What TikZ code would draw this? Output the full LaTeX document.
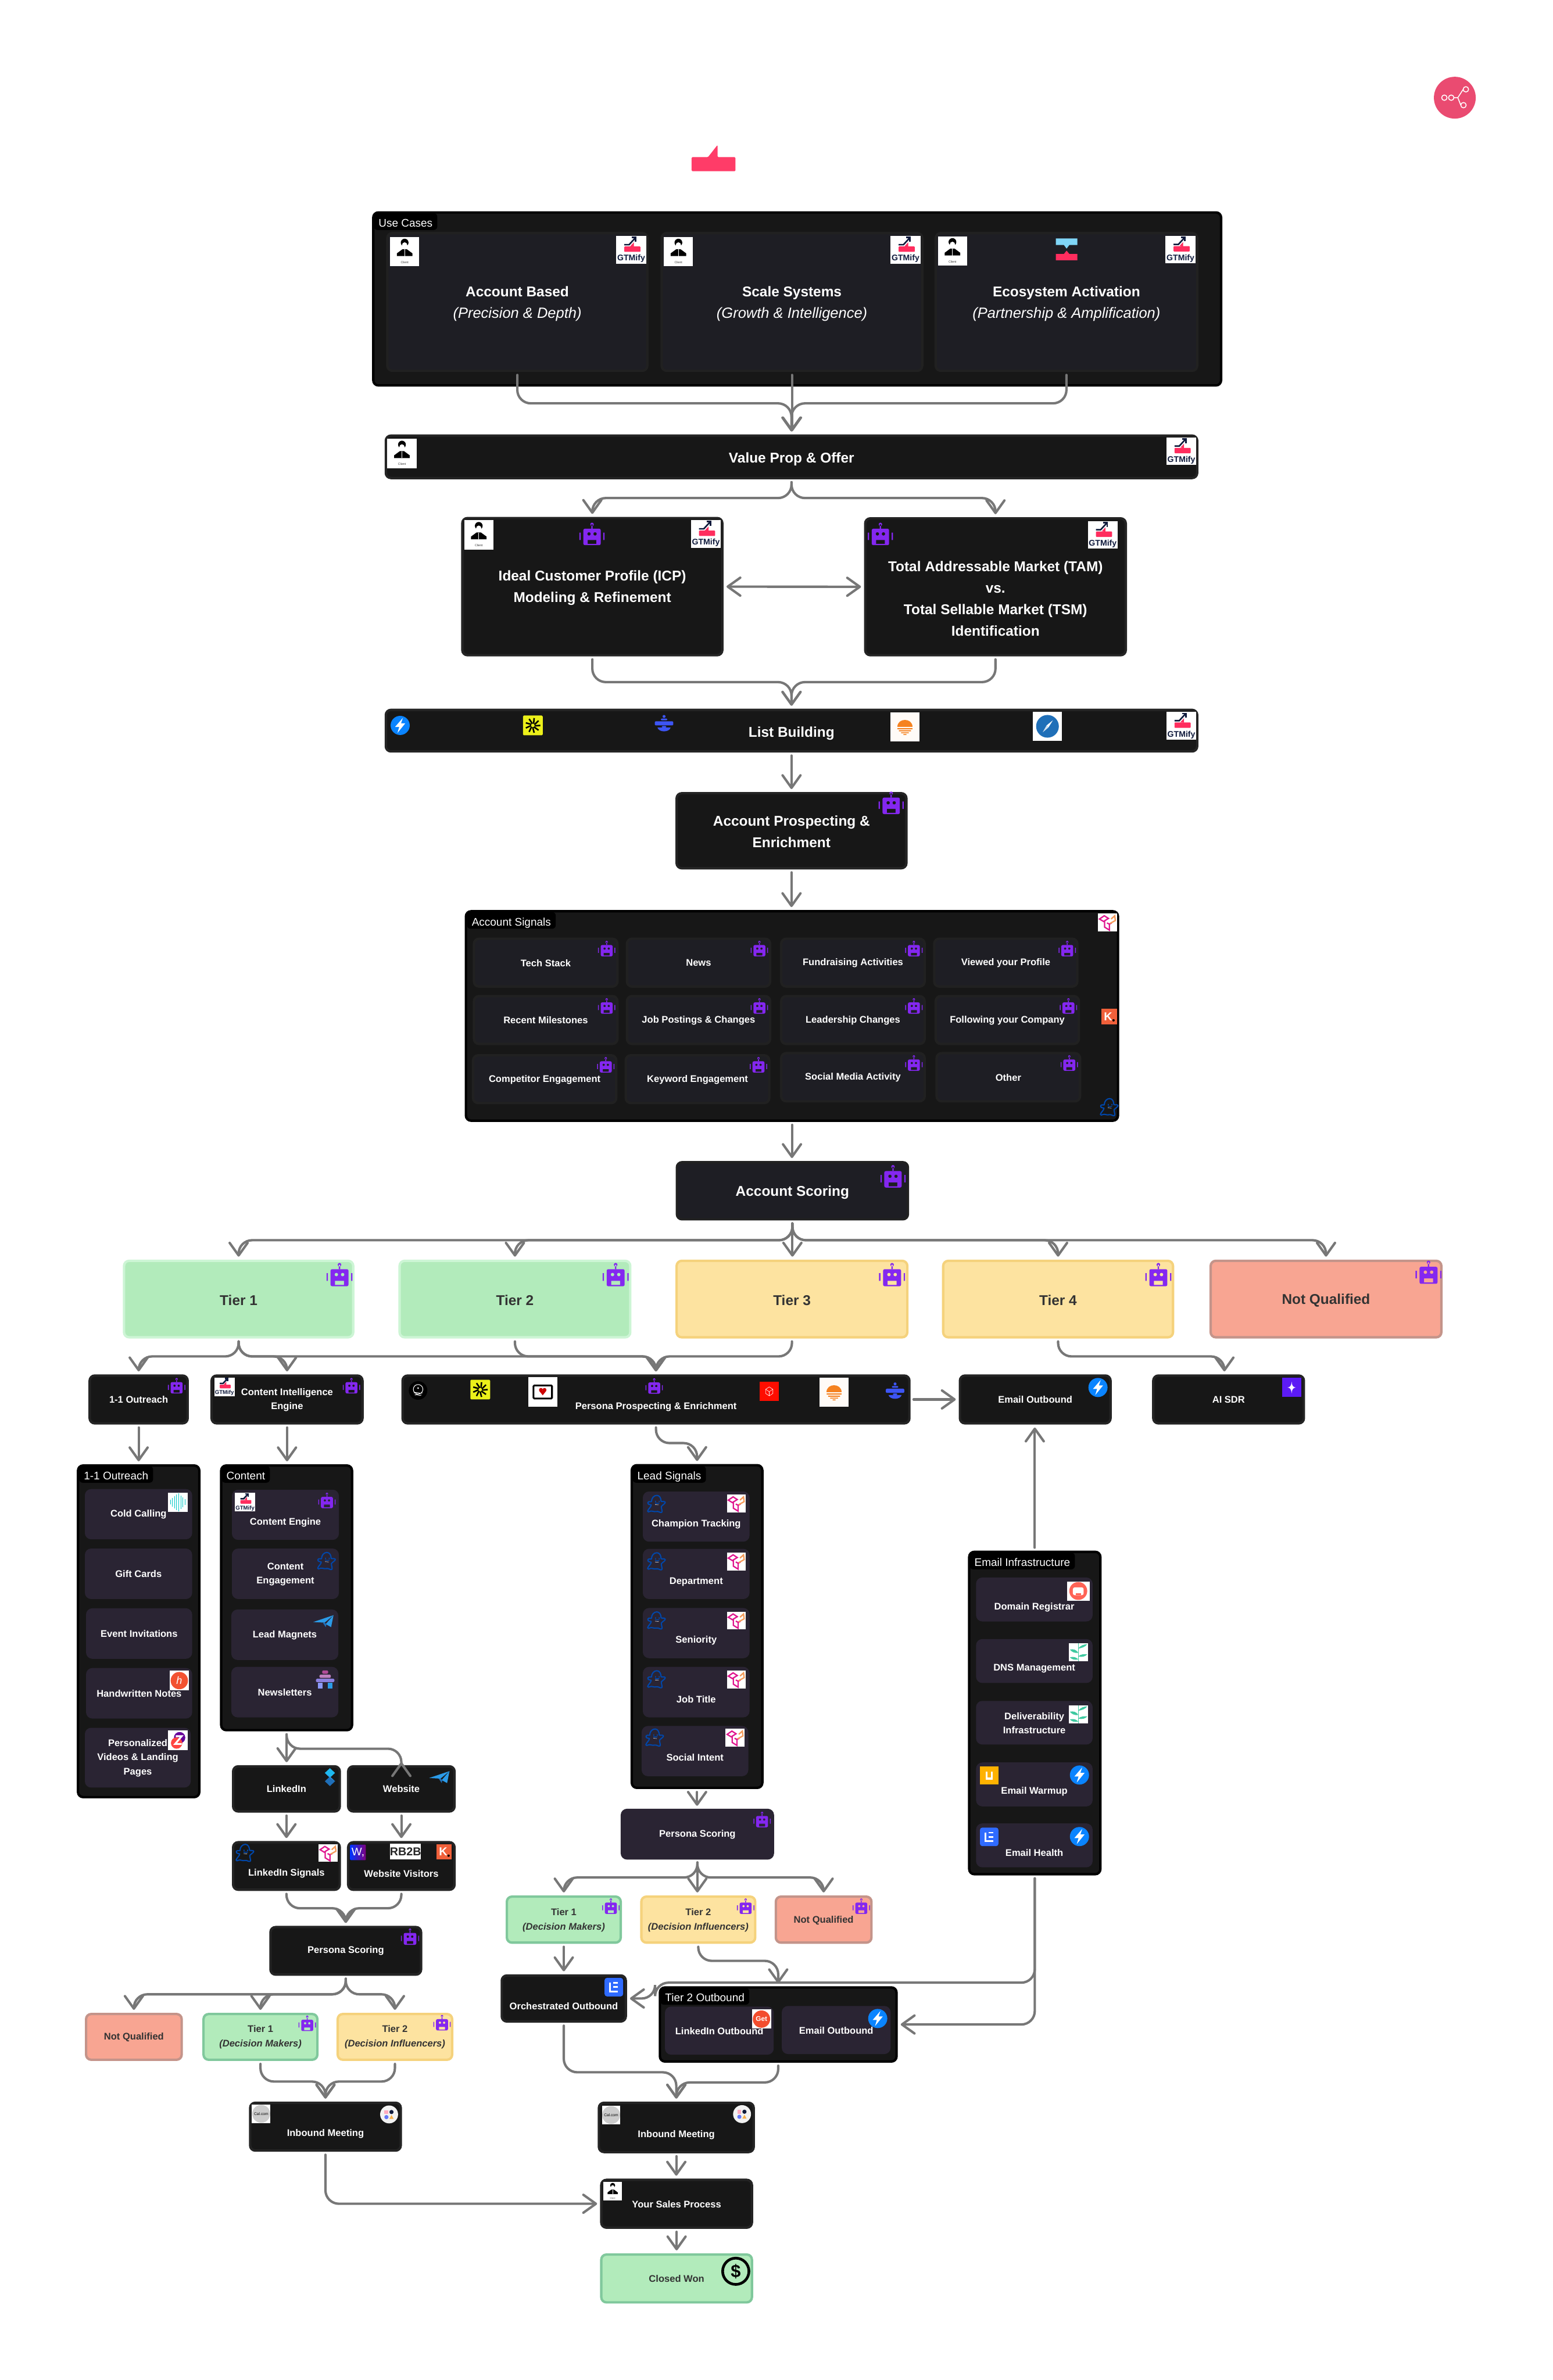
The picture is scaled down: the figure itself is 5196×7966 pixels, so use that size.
\documentclass[tikz,border=0pt]{standalone}
\usepackage{fontspec}
\setmainfont{Liberation Sans}
\usetikzlibrary{arrows.meta}
%% colours
\definecolor{flowgray}{HTML}{777777}
\definecolor{panelfill}{HTML}{171717}
\definecolor{cardfill}{HTML}{1E1E24}
\definecolor{cardline}{HTML}{212121}
\definecolor{plumfill}{HTML}{2A2433}
\definecolor{blackline}{HTML}{242424}
\definecolor{greenfill}{HTML}{B2EBBB}
\definecolor{greenline}{HTML}{80C89C}
\definecolor{paleline}{HTML}{CDF5D5}
\definecolor{yellowfill}{HTML}{FDE3A0}
\definecolor{yellowline}{HTML}{F5D27C}
\definecolor{redfill}{HTML}{F8A592}
\definecolor{redline}{HTML}{C4948A}
\definecolor{robotpurple}{HTML}{8427F0}
\definecolor{gtmred}{HTML}{FF2D5E}
\definecolor{gtmnavy}{HTML}{0F1A3C}
\definecolor{ghostblue}{HTML}{0047AB}
\definecolor{knotpink}{HTML}{E0178F}
\definecolor{knotorange}{HTML}{F59A5A}
\definecolor{boltblue}{HTML}{0A84FF}
\definecolor{clayyellow}{HTML}{ECF01A}
\definecolor{stackblue}{HTML}{3D55F5}
\definecolor{sunorange}{HTML}{F58220}
\definecolor{kayorange}{HTML}{F0603A}
\definecolor{eblue}{HTML}{2F6BFF}
\definecolor{planelight}{HTML}{2B9BE8}
\definecolor{planedark}{HTML}{1F6FB8}
\definecolor{bamboogreen}{HTML}{3EC9A0}
\definecolor{flowpink}{HTML}{EA4B71}
%% a box with its text; the coordinates are its outer corners
\newcommand{\flowbox}[9]{%
  \node[#1,minimum width={(#6-#4-8)*0.01cm},minimum height={(#7-#5-8)*0.01cm}] (#3) at ({(#4+#6)/2},{(#5+#7)/2}) {};
  \node[#2] (#3text) at ({(#4+#6)/2},#8) {#9};}
\newcommand{\subline}[1]{\fontsize{14.1}{20.5}\selectfont\mdseries\itshape #1}
\tikzset{
  >={Straight Barb[length=0.42cm,width=0.6cm,round]},
  flow/.style={->,draw=flowgray,line width=0.08cm,rounded corners=0.45cm,line cap=round},
  vhv/.style={to path={-- (\tikztostart |- 0,#1) -- (\tikztotarget |- 0,#1) -- (\tikztotarget)}},
  basebox/.style={shape=rectangle,rounded corners=0.17cm,line width=0.08cm,inner sep=0pt,outer sep=0.14cm},
  panelbox/.style={basebox,fill=panelfill,draw=black},
  cardbox/.style={basebox,fill=cardfill,draw=cardline},
  plumbox/.style={basebox,fill=plumfill,draw=plumfill},
  blackbox/.style={basebox,fill=panelfill,draw=blackline},
  greenbox/.style={basebox,fill=greenfill,draw=greenline},
  palebox/.style={basebox,fill=greenfill,draw=paleline},
  yellowbox/.style={basebox,fill=yellowfill,draw=yellowline},
  redbox/.style={basebox,fill=redfill,draw=redline},
  bigtext/.style={text=white,align=center,yshift=-0.04cm,font=\fontsize{13.5}{20.5}\selectfont\bfseries},
  smalltext/.style={text=white,align=center,font=\fontsize{9.15}{13.5}\selectfont\bfseries},
  bigdark/.style={bigtext,text=black!80},
  smalldark/.style={smalltext,text=black!80},
  tagbox/.style={shape=rectangle,fill=black,text=white,rounded corners=0.12cm,anchor=north west,
    inner xsep=0.16cm,inner ysep=0.1cm,text height=0.36cm,text depth=0cm,font=\fontsize{10.5}{12}\selectfont},
  %% logos, drawn about their centres
  robotpic/.pic={
    \fill[robotpurple,even odd rule] [rounded corners=0.05cm] (-20,-12) rectangle (20,26)
      [sharp corners] (-7,0) circle[radius=4] (7,0) circle[radius=4] (-10,14) rectangle (10,23);
    \fill[robotpurple] (-1.5,-22) rectangle (1.5,-12) (0,-22) circle[radius=4]
      (-29,-3) rectangle (-26,14) (26,-3) rectangle (29,14);},
  gtmpic/.pic={
    \fill[white] (-50,-46) rectangle (50,46);
    \fill[gtmred,rounded corners=0.02cm] (-23,-11) rectangle (31,7);
    \fill[gtmred] (-3,-12) -- (9,-25) -- (9,-10) -- cycle;
    \draw[gtmnavy,line width=0.05cm] (-23,-17) -- (-7,-17) -- (15,-41);
    \draw[gtmnavy,line width=0.05cm] (2,-41) -- (15,-41) -- (15,-27);
    \node[transform shape,inner sep=0pt,text=gtmnavy,font=\fontsize{7.8}{9}\selectfont\bfseries] (gtmword) at (0,30) {GTMify};},
  clientpic/.pic={
    \fill[white] (-49,-49) rectangle (49,49);
    \fill[black] (-26,15) -- (-26,6) -- (-7,-8) -- (7,-8) -- (26,6) -- (26,15) -- cycle;
    \fill[black] (0,-30) ellipse[x radius=13,y radius=13];
    \fill[white] (0,-21) ellipse[x radius=9,y radius=10];
    \draw[white,line width=0.02cm] (0,-7) -- (0,15);
    \node[transform shape,inner sep=0pt,text=black!80,font=\fontsize{2.9}{3}\selectfont] (clientword) at (0,36) {Client};},
  ghostpic/.pic={
    \draw[ghostblue,line width=0.04cm,line join=round] (-29,24) .. controls (-27,16) and (-17,10) .. (-17,3)
      .. controls (-22,3) and (-30,0) .. (-28,-5) .. controls (-27,-9) and (-20,-8) .. (-16,-8)
      .. controls (-16,-20) and (-8,-29) .. (2,-29) .. controls (12,-29) and (16,-18) .. (16,-9)
      .. controls (20,-7) and (28,-10) .. (30,-6) .. controls (31,-2) and (20,4) .. (17,8)
      .. controls (16,14) and (22,26) .. (18,28) .. controls (12,30) and (8,23) .. (0,25)
      .. controls (-8,27) and (-14,22) .. (-20,24) .. controls (-24,26) and (-29,28) .. cycle;
    \fill[ghostblue] (-4,-11) rectangle (-1,-6) (8,-11) rectangle (11,-6) (-4,-4) rectangle (10,-1);
    \draw[white,line width=0.01cm] (-4,2) -- (8,3);},
  knotpic/.pic={
    \fill[white] (-32,-30) rectangle (32,30);
    \draw[knotpink,line width=0.045cm] (-12,-2) -- (-27,-11) -- (-11,-22) -- (3,-13) -- (-10,-5) -- (-10,16) -- (6,26) -- (6,6);
    \draw[knotpink,line width=0.045cm] (-2,2) -- (6,6) -- (14,2);
    \draw[knotorange,line width=0.045cm] (12,-11) -- (24,-22) -- (26,-6) -- (8,4);},
  boltpic/.pic={
    \fill[boltblue] (0,0) circle[radius=32];
    \fill[white] (9,-25) -- (-17,5) -- (-3,5) -- (-9,25) -- (17,-7) -- (3,-7) -- cycle;},
  claypic/.pic={
    \fill[clayyellow,rounded corners=0.03cm] (-33,-33) rectangle (33,33);
    \foreach \a in {0,40,...,320} {\draw[black,line width=0.05cm] (\a+15:6) -- (\a:25);}},
  stackpic/.pic={
    \fill[stackblue] (0,-24) circle[radius=5];
    \fill[stackblue,rounded corners=0.03cm] (-11,-17) rectangle (11,-11) (-31,-8) rectangle (31,6) (-8,8) rectangle (8,13);
    \fill[stackblue] (-22,13) .. controls (-18,30) and (18,30) .. (22,13) -- cycle;},
  sunpic/.pic={
    \fill[white!97!orange] (-49,-49) rectangle (49,49);
    \fill[sunorange] (-25,0) .. controls (-25,-32) and (25,-32) .. (25,0) -- cycle;
    \fill[sunorange] (-25,4) rectangle (25,8) (-20,11) rectangle (20,15) (-13,18) rectangle (13,21) (-5,24) rectangle (5,27);},
  compasspic/.pic={
    \fill[white] (-49,-49) rectangle (49,49);
    \fill[planedark] (0,0) circle[radius=38];
    \fill[white] (18,-20) -- (3,4) -- (-3,-3) -- cycle;
    \fill[white!80!planedark] (-16,20) -- (3,4) -- (-3,-3) -- cycle;},
  mailpic/.pic={
    \fill[white] (-49,-49) rectangle (49,49);
    \draw[black,line width=0.06cm,rounded corners=0.03cm] (-31,-22) rectangle (31,22);
    \fill[red!80!black] (-6,-7) circle[radius=6.5] (6,-7) circle[radius=6.5];
    \fill[red!80!black] (-12,-4) -- (0,11) -- (12,-4) -- cycle;},
  cubepic/.pic={
    \fill[red!90!orange] (-32,-32) rectangle (32,32);
    \draw[white,line width=0.012cm] (0,-14) -- (12,-6) -- (12,8) -- (0,16) -- (-12,8) -- (-12,-6) -- cycle (-12,-6) -- (0,2) -- (12,-6) (0,2) -- (0,16);},
  wavepic/.pic={
    \fill[black] (0,0) circle[radius=31];
    \draw[white,line width=0.02cm] (0,-4) circle[radius=16] (-14,8) .. controls (-7,3) and (7,13) .. (14,8) (-11,15) .. controls (-5,11) and (5,19) .. (11,15);
    \fill[white] (0,-8) circle[radius=3];},
  kaypic/.pic={
    \fill[kayorange] (-26,-26) rectangle (26,26);
    \node[transform shape,inner sep=0pt,text=white,font=\fontsize{11}{12}\selectfont\bfseries] (kayword) at (-3,0) {K};
    \fill[black] (15,13) circle[radius=4];},
  wordpic/.pic={
    \shade[left color=blue!80!cyan,right color=violet,rounded corners=0.02cm] (-26,-26) rectangle (26,26);
    \node[transform shape,inner sep=0pt,text=white,font=\fontsize{10.5}{12}\selectfont] (wword) at (0,0) {W,};},
  rbpic/.pic={
    \fill[white] (-52,-27) rectangle (52,27);
    \node[transform shape,inner sep=0pt,text=black!85,font=\fontsize{10.9}{12}\selectfont\bfseries] (rbword) at (0,0) {RB2B};},
  getpic/.pic={
    \fill[white] (-32,-32) rectangle (32,32);
    \fill[kayorange!80!red] (0,0) circle[radius=29];
    \node[transform shape,inner sep=0pt,text=white,font=\fontsize{6.5}{7}\selectfont\bfseries] (getword) at (0,0) {Get};},
  calpic/.pic={
    \fill[white] (-31,-31) rectangle (31,31);
    \fill[gray!40] (0,0) circle[radius=30];
    \node[transform shape,inner sep=0pt,text=black,font=\fontsize{3.7}{4}\selectfont] (calword) at (0,0) {Cal.com};},
  shapespic/.pic={
    \fill[white!95!black] (0,0) circle[radius=30];
    \fill[gtmred!40!white] (-16,-14) rectangle (-3,-1);
    \fill[gtmnavy] (8,-8) circle[radius=7];
    \fill[stackblue!80!white] (-9,9) circle[radius=7];
    \fill[yellowline!60!orange] (1,15) -- (8,2) -- (15,15) -- cycle;},
  epic/.pic={
    \fill[eblue,rounded corners=0.08cm] (-31,-31) rectangle (31,31);
    \draw[white,line width=0.055cm] (-13,-15) -- (-13,14) -- (14,14) (-2,-14) -- (14,-14) (-2,0) -- (14,0);},
  planepic/.pic={
    \fill[planelight] (-34,3) -- (34,-20) -- (4,5) -- cycle;
    \fill[planelight] (34,-20) -- (26,20) -- (8,10) -- cycle;
    \fill[planedark] (4,5) -- (-2,5) -- (8,20) -- (10,10) -- cycle;},
  beepic/.pic={
    \fill[rounded corners=0.04cm,violet!60!pink] (-10,-31) rectangle (10,-20);
    \fill[rounded corners=0.03cm,violet!50!white] (-19,-17) rectangle (19,-6);
    \fill[rounded corners=0.03cm,stackblue!60!pink] (-31,-3) rectangle (31,8);
    \fill[stackblue!60!white] (-24,11) rectangle (-8,30);
    \fill[planelight] (8,11) rectangle (24,30);},
  diamondpic/.pic={
    \fill[planelight!70!cyan] (0,-30) -- (17,-14) -- (0,2) -- (-17,-14) -- cycle;
    \fill[planedark] (0,30) -- (17,14) -- (0,-2) -- (-17,14) -- cycle;
    \fill[planelight] (-17,-14) -- (0,2) -- (17,14) -- (0,-2) -- cycle;},
  bamboopic/.pic={
    \fill[white] (-32,-30) rectangle (32,30);
    \draw[bamboogreen,line width=0.025cm] (0,-30) -- (0,30);
    \fill[bamboogreen] (0,-12) .. controls (8,-24) and (20,-26) .. (30,-27) .. controls (24,-18) and (12,-14) .. cycle;
    \fill[bamboogreen] (0,2) .. controls (-8,-10) and (-16,-11) .. (-28,-9) .. controls (-22,-1) and (-12,4) .. cycle;
    \fill[bamboogreen] (0,14) .. controls (8,6) and (20,6) .. (30,7) .. controls (24,14) and (12,18) .. cycle;
    \fill[bamboogreen] (0,24) .. controls (-8,16) and (-16,14) .. (-28,17) .. controls (-22,24) and (-12,27) .. cycle;},
  domainpic/.pic={
    \fill[white] (-38,-32) rectangle (38,32);
    \fill[red!50!pink!90!orange] (0,0) circle[radius=30];
    \fill[white,rounded corners=0.06cm] (-18,-12) rectangle (18,14);
    \fill[red!50!pink!90!orange] (-9,8) rectangle (9,14);},
  warmpic/.pic={
    \fill[orange!60!yellow] (-32,-30) rectangle (32,30);
    \draw[white,line width=0.07cm] (-9,-12) -- (-9,11) -- (9,11) -- (9,-12);},
  coldpic/.pic={
    \fill[white] (-33,-32) rectangle (33,32);
    \foreach \x/\h in {-26/8,-19/14,-12/20,-5/26,2/30,9/22,16/16,23/10} {\draw[teal!45!cyan,line width=0.022cm] (\x,-\h) -- (\x,\h);}},
  handpic/.pic={
    \fill[white] (-32,-33) rectangle (32,33);
    \fill[kayorange!85!red] (0,0) circle[radius=29];
    \node[transform shape,inner sep=0pt,text=white,font=\fontsize{10}{11}\selectfont\itshape] (handword) at (0,0) {h};},
  zedpic/.pic={
    \fill[white] (-33,-33) rectangle (33,33);
    \fill[violet!80!blue] (5,-9) circle[radius=19];
    \fill[gtmred!70!orange] (-5,9) circle[radius=19];
    \draw[white,line width=0.06cm] (-8,-14) -- (12,-14) -- (-10,12) -- (12,12);},
  sparkpic/.pic={
    \fill[robotpurple!70!blue] (-32,-32) rectangle (32,32);
    \fill[white] (0,-20) .. controls (1,-5) and (5,-1) .. (14,0) .. controls (5,1) and (1,5) .. (0,20)
      .. controls (-1,5) and (-5,1) .. (-14,0) .. controls (-5,-1) and (-1,-5) .. (0,-20);},
}
\begin{document}
\begin{tikzpicture}[x=0.01cm,y=-0.01cm]
\useasboundingbox (0,0) rectangle (5196,7966);
\fill[white] (0,0) rectangle (5196,7966);
%% top logos
\fill[gtmred!90!pink,rounded corners=0.03cm] (2314,526) -- (2369,526) -- (2401,485) -- (2401,526) -- (2461,526) -- (2461,573) -- (2314,573) -- cycle;
\fill[flowpink] (4868,327) circle[radius=70];
\draw[white,line width=0.03cm] (4833,327) circle[radius=9] (4856,327) circle[radius=9] (4905,299) circle[radius=9] (4897,352) circle[radius=9]
  (4865,327) -- (4878,327) -- (4896,299) (4878,327) -- (4888,352);

%% use cases
\flowbox{panelbox}{smalltext}{usecases}{1245}{707}{4090}{1294}{1000}{}
\node[tagbox] (usecasestag) at (1250,713) {Use Cases};
\flowbox{cardbox}{bigtext}{accountbased}{1292}{776}{2170}{1245}{1013}{Account Based\\\subline{(Precision \& Depth)}}
\flowbox{cardbox}{bigtext}{scalesystems}{2210}{776}{3090}{1245}{1013}{Scale Systems\\\subline{(Growth \& Intelligence)}}
\flowbox{cardbox}{bigtext}{ecosystem}{3127}{776}{4010}{1245}{1013}{Ecosystem Activation\\\subline{(Partnership \& Amplification)}}

%% offer, market and list
\flowbox{blackbox}{bigtext}{valueprop}{1287}{1454}{4010}{1604}{1532}{Value Prop \& Offer}
\flowbox{blackbox}{bigtext}{icp}{1543}{1730}{2421}{2197}{1964}{Ideal Customer Profile (ICP)\\Modeling \& Refinement}
\flowbox{blackbox}{bigtext}{tam}{2891}{1731}{3771}{2197}{2000}{Total Addressable Market (TAM)\\vs.\\Total Sellable Market (TSM)\\Identification}
\flowbox{blackbox}{bigtext}{listbuilding}{1287}{2372}{4010}{2519}{2450}{List Building}
\flowbox{blackbox}{bigtext}{prospecting}{2260}{2651}{3037}{2910}{2780}{Account Prospecting \&\\Enrichment}

%% account signals
\flowbox{panelbox}{smalltext}{accountsignals}{1555}{3046}{3745}{3755}{3400}{}
\node[tagbox] (accountsignalstag) at (1562,3052) {Account Signals};
\flowbox{cardbox}{smalltext}{techstack}{1582}{3138}{2070}{3306}{3223}{Tech Stack}
\flowbox{cardbox}{smalltext}{news}{2094}{3138}{2581}{3306}{3223}{News}
\flowbox{cardbox}{smalltext}{fundraising}{2610}{3138}{3098}{3306}{3223}{Fundraising Activities}
\flowbox{cardbox}{smalltext}{viewed}{3122}{3138}{3609}{3306}{3223}{Viewed your Profile}
\flowbox{cardbox}{smalltext}{milestones}{1582}{3330}{2070}{3498}{3415}{Recent Milestones}
\flowbox{cardbox}{smalltext}{jobpostings}{2094}{3330}{2581}{3498}{3415}{Job Postings \& Changes}
\flowbox{cardbox}{smalltext}{leadership}{2610}{3330}{3098}{3498}{3415}{Leadership Changes}
\flowbox{cardbox}{smalltext}{following}{3127}{3330}{3614}{3498}{3415}{Following your Company}
\flowbox{cardbox}{smalltext}{competitor}{1579}{3528}{2066}{3696}{3613}{Competitor Engagement}
\flowbox{cardbox}{smalltext}{keyword}{2090}{3528}{2578}{3696}{3613}{Keyword Engagement}
\flowbox{cardbox}{smalltext}{socialmedia}{2610}{3521}{3098}{3690}{3607}{Social Media Activity}
\flowbox{cardbox}{smalltext}{othersignal}{3130}{3521}{3618}{3690}{3607}{Other}

%% scoring and tiers
\flowbox{cardbox}{bigtext}{accountscoring}{2261}{3886}{3042}{4085}{3988}{Account Scoring}
\flowbox{palebox}{bigdark}{tierone}{411}{4216}{1186}{4480}{4348}{Tier 1}
\flowbox{palebox}{bigdark}{tiertwo}{1333}{4216}{2113}{4480}{4348}{Tier 2}
\flowbox{yellowbox}{bigdark}{tierthree}{2260}{4216}{3040}{4480}{4348}{Tier 3}
\flowbox{yellowbox}{bigdark}{tierfour}{3152}{4216}{3929}{4480}{4348}{Tier 4}
\flowbox{redbox}{bigdark}{tiernone}{4047}{4216}{4827}{4480}{4348}{Not Qualified}

%% plays
\flowbox{blackbox}{smalltext}{outreach}{296}{4600}{632}{4768}{4685}{1-1 Outreach}
\flowbox{blackbox}{smalltext}{contentengine}{704}{4600}{1217}{4768}{4685}{Content Intelligence\\Engine}
\flowbox{blackbox}{smalltext}{persona}{1343}{4600}{3047}{4768}{4709}{Persona Prospecting \& Enrichment}
\flowbox{blackbox}{smalltext}{emailout}{3208}{4600}{3720}{4768}{4684}{Email Outbound}
\flowbox{blackbox}{smalltext}{aisdr}{3855}{4600}{4367}{4768}{4684}{AI SDR}
\coordinate (aisdrtip) at (4097,4590);

%% 1-1 outreach
\flowbox{panelbox}{smalltext}{outreachlist}{257}{4901}{671}{6019}{5400}{}
\node[tagbox] (outreachtag) at (264,4906) {1-1 Outreach};
\flowbox{plumbox}{smalltext}{coldcalling}{284}{4984}{643}{5152}{5069}{Cold Calling}
\flowbox{plumbox}{smalltext}{giftcards}{284}{5183}{643}{5352}{5268}{Gift Cards}
\flowbox{plumbox}{smalltext}{events}{288}{5383}{643}{5552}{5468}{Event Invitations}
\flowbox{plumbox}{smalltext}{handwritten}{288}{5583}{643}{5752}{5668}{Handwritten Notes}
\flowbox{plumbox}{smalltext}{personalized}{284}{5783}{638}{5983}{5884}{Personalized\\Videos \& Landing\\Pages}

%% content
\flowbox{panelbox}{smalltext}{contentlist}{736}{4901}{1182}{5795}{5300}{}
\node[tagbox] (contenttag) at (741,4906) {Content};
\flowbox{plumbox}{smalltext}{engine}{776}{4986}{1134}{5154}{5095}{Content Engine}
\flowbox{plumbox}{smalltext}{engagement}{776}{5183}{1134}{5352}{5269}{Content\\Engagement}
\flowbox{plumbox}{smalltext}{magnets}{774}{5387}{1132}{5556}{5473}{Lead Magnets}
\flowbox{plumbox}{smalltext}{newsletters}{774}{5579}{1132}{5748}{5665}{Newsletters}

%% linkedin and website branch
\flowbox{blackbox}{smalltext}{linkedin}{776}{5908}{1141}{6067}{5988}{LinkedIn}
\flowbox{blackbox}{smalltext}{website}{1161}{5908}{1525}{6067}{5988}{Website}
\flowbox{blackbox}{smalltext}{linkedinsignals}{776}{6162}{1141}{6329}{6271}{LinkedIn Signals}
\flowbox{blackbox}{smalltext}{websitevisitors}{1161}{6162}{1525}{6329}{6271}{Website Visitors}
\flowbox{blackbox}{smalltext}{scoreleft}{901}{6446}{1413}{6613}{6530}{Persona Scoring}
\flowbox{redbox}{smalldark}{noneleft}{284}{6737}{612}{6898}{6818}{Not Qualified}
\flowbox{greenbox}{smalldark}{makersleft}{677}{6737}{1066}{6898}{6818}{Tier 1\\\itshape (Decision Makers)}
\flowbox{yellowbox}{smalldark}{influencersleft}{1126}{6737}{1517}{6898}{6818}{Tier 2\\\itshape (Decision Influencers)}
\flowbox{blackbox}{smalltext}{meetingleft}{833}{7034}{1345}{7202}{7141}{Inbound Meeting}

%% lead signals
\flowbox{panelbox}{smalltext}{leadsignals}{2110}{4900}{2555}{5988}{5400}{}
\node[tagbox] (leadsignalstag) at (2116,4906) {Lead Signals};
\flowbox{plumbox}{smalltext}{champion}{2151}{4992}{2508}{5160}{5102}{Champion Tracking}
\flowbox{plumbox}{smalltext}{department}{2151}{5184}{2508}{5352}{5294}{Department}
\flowbox{plumbox}{smalltext}{seniority}{2151}{5382}{2508}{5550}{5490}{Seniority}
\flowbox{plumbox}{smalltext}{jobtitle}{2151}{5579}{2508}{5748}{5688}{Job Title}
\flowbox{plumbox}{smalltext}{socialintent}{2147}{5777}{2504}{5945}{5882}{Social Intent}
\flowbox{plumbox}{smalltext}{scoreright}{2077}{6054}{2590}{6224}{6140}{Persona Scoring}
\flowbox{greenbox}{smalldark}{makersright}{1692}{6344}{2081}{6506}{6427}{Tier 1\\\itshape (Decision Makers)}
\flowbox{yellowbox}{smalldark}{influencersright}{2142}{6344}{2531}{6506}{6427}{Tier 2\\\itshape (Decision Influencers)}
\flowbox{redbox}{smalldark}{noneright}{2592}{6344}{2920}{6506}{6427}{Not Qualified}
\flowbox{blackbox}{smalltext}{orchestrated}{1675}{6608}{2098}{6770}{6714}{Orchestrated Outbound}

%% tier 2 outbound
\flowbox{panelbox}{smalltext}{tieroutbound}{2204}{6648}{3004}{6904}{6800}{}
\node[tagbox] (tieroutboundtag) at (2209,6653) {Tier 2 Outbound};
\flowbox{plumbox}{smalltext}{linkedinout}{2225}{6716}{2589}{6877}{6798}{LinkedIn Outbound}
\flowbox{plumbox}{smalltext}{emailoutcard}{2616}{6714}{2980}{6875}{6796}{Email Outbound}

%% closing steps
\flowbox{blackbox}{smalltext}{meetingright}{2000}{7034}{2526}{7207}{7146}{Inbound Meeting}
\flowbox{blackbox}{smalltext}{salesprocess}{2008}{7292}{2520}{7460}{7377}{Your Sales Process}
\flowbox{greenbox}{smalldark}{closedwon}{2008}{7542}{2520}{7710}{7627}{Closed Won}

%% email infrastructure
\flowbox{panelbox}{smalltext}{emailinfra}{3239}{5190}{3686}{6277}{5700}{}
\node[tagbox] (emailinfratag) at (3244,5196) {Email Infrastructure};
\flowbox{plumbox}{smalltext}{domain}{3266}{5280}{3656}{5427}{5379}{Domain Registrar}
\flowbox{plumbox}{smalltext}{dns}{3266}{5486}{3656}{5633}{5584}{DNS Management}
\flowbox{plumbox}{smalltext}{deliverability}{3266}{5693}{3656}{5839}{5767}{Deliverability\\Infrastructure}
\flowbox{plumbox}{smalltext}{warmup}{3266}{5899}{3656}{6046}{5997}{Email Warmup}
\flowbox{plumbox}{smalltext}{health}{3266}{6103}{3656}{6250}{6202}{Email Health}

%% logos
\foreach \x/\y/\s in {1981/1787/1.45, 2946/1787/1.45, 2988/3937/1.45, 1136/4266/1.5, 2060/4266/1.5, 2985/4266/1.5, 3876/4266/1.5, 4780/4258/1.5,
  2982/2687/1.45, 2030/3175/1, 2541/3175/1, 3058/3175/1, 3571/3175/1, 2030/3367/1, 2541/3367/1, 3058/3367/1, 3575/3367/1,
  2027/3564/1, 2538/3564/1, 3058/3558/1, 3578/3558/1, 591/4638/1, 1176/4638/1, 2189/4639/1, 1094/5022/1, 1372/6482/1.05,
  1028/6772/1, 1479/6770/1, 2550/6090/1, 2044/6380/1, 2495/6380/1, 2882/6380/1}
{
  \pic[scale=\s,transform shape] at (\x,\y) {robotpic};
}
\foreach \x/\y/\s in {2112/836/1, 3030/836/1, 3950/835/1, 3953/1510/1, 2362/1787/1, 3690/1790/1, 3953/2429/1, 751/4642/0.68, 820/5028/0.68}
{
  \pic[scale=\s,transform shape] at (\x,\y) {gtmpic};
}
\foreach \x/\y/\s in {1354/842/1, 2270/842/1, 3187/840/1, 1345/1518/1, 1602/1790/1, 2050/7334/0.65}
{
  \pic[scale=\s,transform shape] at (\x,\y) {clientpic};
}
\foreach \x/\y in {3711/3706, 1092/5225, 819/6202, 2196/5034, 2196/5226, 2196/5424, 2196/5621, 2190/5816}
{
  \pic at (\x,\y) {ghostpic};
}
\foreach \x/\y in {3706/3087, 1098/6202, 2464/5032, 2464/5226, 2464/5424, 2464/5621, 2460/5816}
{
  \pic at (\x,\y) {knotpic};
}
\foreach \x/\y in {1339/2428, 3674/4644, 2937/6756, 3612/5941, 3612/6147}
{
  \pic at (\x,\y) {boltpic};
}
\foreach \x/\y in {1783/2428, 1607/4651} {\pic at (\x,\y) {claypic};}
\foreach \x/\y in {2222/2422, 2995/4656} {\pic at (\x,\y) {stackpic};}
\foreach \x/\y in {3028/2433, 2791/4660} {\pic at (\x,\y) {sunpic};}
\foreach \x/\y in {3711/3402, 1486/6198} {\pic at (\x,\y) {kaypic};}
\foreach \x/\y in {1082/5426, 1470/5948} {\pic at (\x,\y) {planepic};}
\foreach \x/\y in {2054/6651, 3310/6148} {\pic at (\x,\y) {epic};}
\foreach \x/\y in {874/7075, 2045/7079} {\pic at (\x,\y) {calpic};}
\foreach \x/\y in {1302/7077, 2483/7076} {\pic at (\x,\y) {shapespic};}
\foreach \x/\y in {3608/5530, 3608/5738} {\pic at (\x,\y) {bamboopic};}
\pic at (3505,2431) {compasspic};
\pic at (1399,4654) {wavepic};
\pic at (1816,4659) {mailpic};
\pic at (2574,4656) {cubepic};
\pic at (4322,4644) {sparkpic};
\pic at (596,5028) {coldpic};
\pic at (600,5625) {handpic};
\pic at (596,5825) {zedpic};
\pic at (1088,5622) {beepic};
\pic at (1104,5948) {diamondpic};
\pic at (1198,6200) {wordpic};
\pic at (1357,6197) {rbpic};
\pic at (2548,6758) {getpic};
\pic at (3608,5325) {domainpic};
\pic at (3310,5942) {warmpic};
%% ecosystem mark and closed won mark
\fill[cyan!50!white] (3533,798) rectangle (3605,820) (3560,820) -- (3578,820) -- (3569,832) -- cycle;
\fill[gtmred] (3533,850) rectangle (3605,871) (3560,850) -- (3578,850) -- (3569,839) -- cycle;
\draw[black,line width=0.09cm] (2462,7602) circle[radius=44];
\node[inner sep=0pt,text=black,font=\fontsize{17}{18}\selectfont\bfseries] (dollarmark) at (2462,7602) {\$};

%% connectors
\foreach \startnode/\endnode/\turn in {
  accountbased/valueprop/1350, ecosystem/valueprop/1350,
  valueprop/icp/1667, valueprop/tam/1667,
  icp/listbuilding/2283, tam/listbuilding/2283,
  accountscoring/tierone/4151, accountscoring/tiertwo/4151, accountscoring/tierfour/4151, accountscoring/tiernone/4151,
  tierone/outreach/4540, tierone/contentengine/4540, tierone/persona/4540, tiertwo/persona/4540, tierthree/persona/4540,
  persona/leadsignals/4830, contentlist/website/5853,
  linkedinsignals/scoreleft/6387, websitevisitors/scoreleft/6387,
  scoreleft/noneleft/6675, scoreleft/makersleft/6675, scoreleft/influencersleft/6675,
  makersleft/meetingleft/6967, influencersleft/meetingleft/6967,
  scoreright/makersright/6284, scoreright/noneright/6284,
  influencersright/tieroutbound/6563,
  orchestrated/meetingright/6936, tieroutbound/meetingright/6970}
{
  \draw[flow] (\startnode.south) to[vhv=\turn] (\endnode.north);
}
\foreach \startnode/\endnode in {
  scalesystems/valueprop, listbuilding/prospecting, prospecting/accountsignals, accountsignals/accountscoring,
  accountscoring/tierthree, outreach/outreachlist, contentengine/contentlist, contentlist/linkedin, linkedin/linkedinsignals,
  website/websitevisitors, leadsignals/scoreright, scoreright/influencersright, makersright/orchestrated,
  meetingright/salesprocess, salesprocess/closedwon}
{
  \draw[flow] (\startnode.south) -- (\startnode.south |- \endnode.north);
}
\draw[flow] (tierfour.south) to[vhv=4540] (aisdrtip);
\draw[flow,<->] (icp.east) -- (tam.west);
\draw[flow] (persona.east) -- (emailout.west);
\draw[flow] (emailinfra.north) -- (emailinfra.north |- emailout.south);
\draw[flow] (emailinfra.south) -- (emailinfra.south |- 0,6636) -- (2192,6636) |- (orchestrated.east);
\draw[flow] (emailinfra.south) |- (tieroutbound.east);
\draw[flow] (meetingleft.south) |- (salesprocess.west);
\end{tikzpicture}
\end{document}
